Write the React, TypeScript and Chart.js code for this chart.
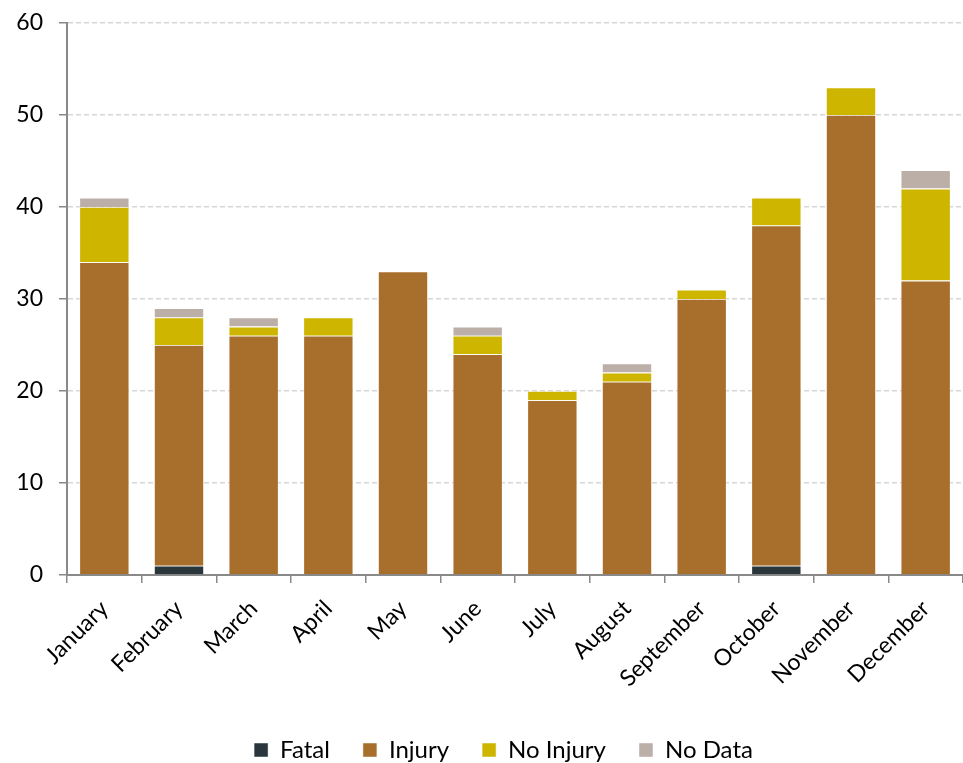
import React, { useEffect, useRef } from "react";
import { Chart, registerables } from "chart.js";

Chart.register(...registerables);

const months = ["January","February","March","April","May","June","July","August","September","October","November","December"];
const fatal = [0,1,0,0,0,0,0,0,0,1,0,0];
const injury = [34,24,26,26,33,24,19,21,30,37,50,32];
const noInjury = [6,3,1,2,0,2,1,1,1,3,3,10];
const noData = [1,1,1,0,0,1,0,1,0,0,0,2];
const yTicks = [0,10,20,30,40,50,60];

const FONT = "Lato, 'Open Sans', sans-serif";

const legendShift = {
  id: "legendShift",
  afterLayout(chart: any) {
    if (chart.legend) {
      chart.legend.left += 22;
      chart.legend.right += 22;
    }
  },
};

export default function App() {
  const ref = useRef<HTMLCanvasElement | null>(null);
  useEffect(() => {
    if (!ref.current) return;
    const mk = (label: string, data: number[], color: string) => ({
      label, data, backgroundColor: color,
      borderColor: "rgba(255,255,255,0.6)", borderWidth: 0.8,
      categoryPercentage: 1, barPercentage: 0.67,
    });
    const chart = new Chart(ref.current, {
      type: "bar",
      data: {
        labels: months,
        datasets: [
          mk("Fatal", fatal, "#29373d"),
          mk("Injury", injury, "#a86e2c"),
          mk("No Injury", noInjury, "#cdb500"),
          mk("No Data", noData, "#bbafa8"),
        ],
      },
      plugins: [legendShift],
      options: {
        animation: false,
        responsive: true,
        maintainAspectRatio: false,
        layout: { padding: { top: 23, right: 0, left: 0, bottom: -9 } },
        plugins: {
          tooltip: { enabled: false },
          legend: {
            position: "bottom",
            labels: {
              boxWidth: 14, boxHeight: 14, padding: 33, color: "#000",
              font: { family: FONT, size: 24 },
            },
          },
        },
        scales: {
          x: {
            stacked: true,
            afterFit: (s: any) => { s.height = 130; },
            grid: { drawOnChartArea: false, drawTicks: true, tickLength: 8, color: "#898989", lineWidth: 1.5, offset: true },
            border: { display: true, color: "#898989", width: 2 },
            ticks: { color: "#000", maxRotation: 45, minRotation: 45, padding: 12, font: { family: FONT, size: 23 } },
          },
          y: {
            stacked: true,
            min: 0, max: 60,
            afterFit: (s: any) => { s.width = 67; s.paddingTop = 0; s.paddingBottom = 0; },
            afterBuildTicks: (s: any) => { s.ticks = yTicks.map((v) => ({ value: v })); },
            grid: { color: "#d6d6d6", lineWidth: 1.5, tickLength: 8, tickColor: "#898989", tickWidth: 1.5 },
            border: { display: true, color: "#898989", width: 2, dash: [5, 3] },
            ticks: { color: "#000", padding: 16, font: { family: FONT, size: 23 } },
          },
        },
      },
    });
    return () => chart.destroy();
  }, []);
  return (
    <div style={{ position: "fixed", left: 0, top: 0, width: 963, height: 763, background: "#fff" }}>
      <canvas ref={ref} />
    </div>
  );
}
